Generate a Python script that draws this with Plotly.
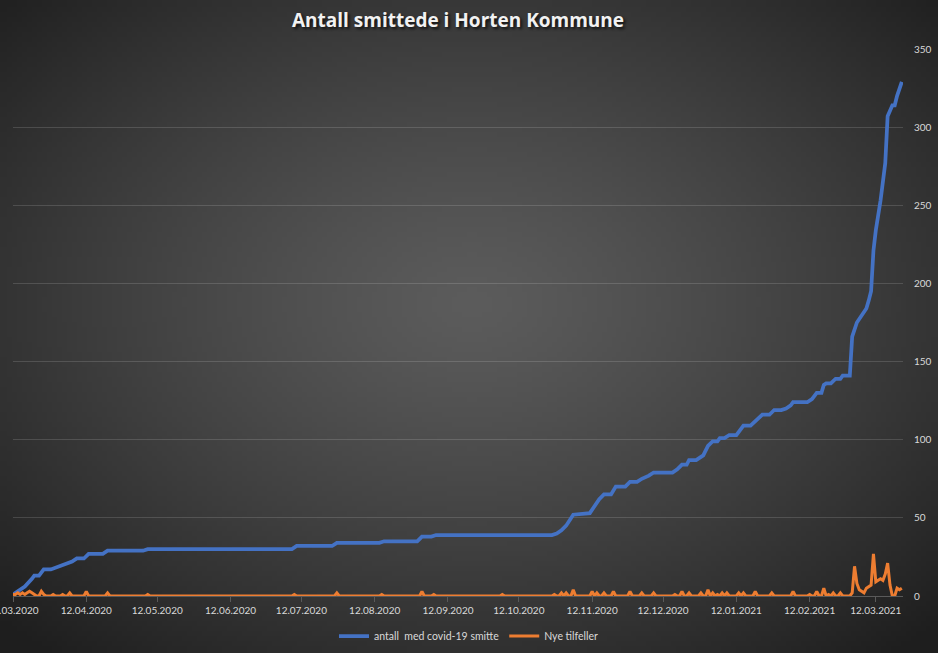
import base64
import struct
import zlib

import numpy as np
import pandas as pd
import plotly.graph_objects as go

# ---------------- data ----------------
cum_dates = [
    "2020-03-12", "2020-03-13", "2020-03-17", "2020-03-20", "2020-03-21", "2020-03-23",
    "2020-03-25", "2020-03-28", "2020-03-30", "2020-04-02", "2020-04-04", "2020-04-06",
    "2020-04-08", "2020-04-11", "2020-04-13", "2020-04-19", "2020-04-21", "2020-05-06",
    "2020-05-08", "2020-07-08", "2020-07-10", "2020-07-25", "2020-07-27", "2020-08-14",
    "2020-08-16", "2020-08-30", "2020-09-01", "2020-09-05", "2020-09-07", "2020-10-26",
    "2020-10-28", "2020-10-30", "2020-11-01", "2020-11-04", "2020-11-11", "2020-11-13",
    "2020-11-15", "2020-11-17", "2020-11-20", "2020-11-22", "2020-11-26", "2020-11-28",
    "2020-12-01", "2020-12-03", "2020-12-06", "2020-12-08", "2020-12-16", "2020-12-18",
    "2020-12-20", "2020-12-22", "2020-12-23", "2020-12-26", "2020-12-28", "2020-12-29",
    "2020-12-31", "2021-01-02", "2021-01-04", "2021-01-05", "2021-01-07", "2021-01-09",
    "2021-01-12", "2021-01-13", "2021-01-15", "2021-01-18", "2021-01-20", "2021-01-23",
    "2021-01-26", "2021-01-28", "2021-01-31", "2021-02-02", "2021-02-04", "2021-02-05",
    "2021-02-11", "2021-02-13", "2021-02-15", "2021-02-17", "2021-02-18", "2021-02-19",
    "2021-02-21", "2021-02-23", "2021-02-25", "2021-02-26", "2021-03-01", "2021-03-02",
    "2021-03-04", "2021-03-06", "2021-03-08", "2021-03-09", "2021-03-10", "2021-03-11",
    "2021-03-12", "2021-03-14", "2021-03-16", "2021-03-17", "2021-03-19", "2021-03-20",
    "2021-03-21", "2021-03-23",
]
cum_values = [
    1, 2, 6, 11, 13, 13,
    17, 17, 18, 20, 21, 22,
    24, 24, 27, 27, 29, 29,
    30, 30, 32, 32, 34, 34,
    35, 35, 38, 38, 39, 39,
    40, 42, 45, 52, 53, 58,
    62, 65, 65, 70, 70, 73,
    73, 75, 77, 79, 79, 81,
    84, 84, 87, 87, 89, 90,
    96, 99, 99, 101, 101, 103,
    103, 105, 109, 109, 112, 116,
    116, 119, 119, 120, 122, 124,
    124, 126, 130, 130, 135, 136,
    136, 139, 139, 141, 141, 166,
    175, 180, 184, 189, 195, 221,
    234, 253, 277, 307, 314, 314,
    320, 329,
]

# days with new cases (all other days in the period show 0)
new_dates = [
    "2020-03-12", "2020-03-13", "2020-03-14", "2020-03-15", "2020-03-16", "2020-03-17",
    "2020-03-18", "2020-03-19", "2020-03-20", "2020-03-21", "2020-03-24", "2020-03-25",
    "2020-03-29", "2020-04-02", "2020-04-05", "2020-04-12", "2020-04-21", "2020-05-08",
    "2020-07-09", "2020-07-27", "2020-08-15", "2020-09-01", "2020-09-06", "2020-10-05",
    "2020-10-27", "2020-10-30", "2020-11-01", "2020-11-04", "2020-11-12", "2020-11-14",
    "2020-11-17", "2020-11-21", "2020-11-28", "2020-12-03", "2020-12-08", "2020-12-17",
    "2020-12-20", "2020-12-23", "2020-12-28", "2020-12-31", "2021-01-02", "2021-01-04",
    "2021-01-06", "2021-01-08", "2021-01-13", "2021-01-15", "2021-01-20", "2021-01-27",
    "2021-02-05", "2021-02-12", "2021-02-15", "2021-02-18", "2021-02-20", "2021-02-22",
    "2021-02-25", "2021-03-02", "2021-03-03", "2021-03-04", "2021-03-05", "2021-03-06",
    "2021-03-07", "2021-03-08", "2021-03-09", "2021-03-10", "2021-03-11", "2021-03-12",
    "2021-03-13", "2021-03-14", "2021-03-15", "2021-03-16", "2021-03-17", "2021-03-18",
    "2021-03-21", "2021-03-22", "2021-03-23",
]
new_values = [
    1, 1, 2, 1, 2, 1,
    2, 3, 2, 1, 3, 1,
    1, 1, 2, 3, 2, 1,
    1, 2, 1, 3, 1, 1,
    1, 2, 2, 4, 3, 2,
    2, 3, 3, 2, 2, 1,
    3, 2, 2, 4, 2, 1,
    2, 2, 2, 2, 3, 2,
    3, 1, 3, 5, 1, 2,
    2, 2, 19, 8, 4, 3,
    2, 5, 6, 7, 27, 9,
    10, 11, 10, 14, 21, 7,
    5, 4, 5,
]
period_start = "2020-03-12"
period_end = "2021-03-23"

series_names = ["antall  med covid-19 smitte", "Nye tilfeller"]
chart_title = "Antall smittede i Horten Kommune"

# daily new-case series (zero on days without a reading above)
new_series = pd.Series(new_values, index=pd.to_datetime(new_dates))
daily_idx = pd.date_range(period_start, period_end, freq="D")
new_daily = new_series.reindex(daily_idx, fill_value=0)

# ---------------- background (radial gradient) ----------------
W, H = 938, 653
gw, gh = 188, 131
yy, xx = np.mgrid[0:gh, 0:gw].astype(float)
cx, cy = gw * 0.5, gh * 0.46
d = np.sqrt(((xx - cx) / (gw / 2)) ** 2 + ((yy - cy) / (gh / 2)) ** 2) / np.sqrt(2)
d = np.clip(d, 0, 1) ** 1.25
val = (92 - (92 - 30) * d).astype(np.uint8)
rgb = np.stack([val, val, val], axis=-1)


def png_bytes(arr):
    h, w, _ = arr.shape
    raw = b"".join(b"\x00" + arr[r].tobytes() for r in range(h))

    def chunk(tag, data):
        return (struct.pack(">I", len(data)) + tag + data
                + struct.pack(">I", zlib.crc32(tag + data) & 0xFFFFFFFF))

    return (b"\x89PNG\r\n\x1a\n"
            + chunk(b"IHDR", struct.pack(">IIBBBBB", w, h, 8, 2, 0, 0, 0))
            + chunk(b"IDAT", zlib.compress(raw, 9))
            + chunk(b"IEND", b""))


bg_uri = "data:image/png;base64," + base64.b64encode(png_bytes(rgb)).decode()

# ---------------- figure ----------------
ml, mr, mt, mb = 13, 35, 49, 57
pw, ph = W - ml - mr, H - mt - mb

fig = go.Figure()
fig.add_trace(go.Scatter(
    x=pd.to_datetime(cum_dates), y=cum_values, mode="lines",
    name=series_names[0],
    line=dict(color="#4472C4", width=3.75),
))
fig.add_trace(go.Scatter(
    x=new_daily.index, y=new_daily.values, mode="lines",
    name=series_names[1],
    line=dict(color="#ED7D31", width=3),
))

fig.update_layout(
    width=W, height=H,
    margin=dict(l=ml, r=mr, t=mt, b=mb, pad=0, autoexpand=False),
    paper_bgcolor="#2a2a2a",
    plot_bgcolor="rgba(0,0,0,0)",
    images=[dict(
        source=bg_uri, xref="paper", yref="paper",
        x=-ml / pw, y=1 + mt / ph, sizex=W / pw, sizey=H / ph,
        xanchor="left", yanchor="top", sizing="stretch", layer="below",
    )],
    title=dict(
        text=chart_title, x=0.5, xref="paper", xanchor="center",
        y=1 - 20 / H, yref="container", yanchor="middle",
        font=dict(family="Open Sans", size=19, color="#f2f2f2", weight="bold",
                  shadow="2px 2px 3px rgba(0,0,0,0.7)"),
    ),
    font=dict(family="Lato", size=10, color="#d9d9d9"),
    showlegend=True,
    legend=dict(
        orientation="h", x=0.5, xref="container", xanchor="center",
        y=1 - 636 / H, yref="container", yanchor="middle",
        bgcolor="rgba(0,0,0,0)", font=dict(family="Lato", size=10.5, color="#d9d9d9"),
        itemwidth=30,
    ),
    xaxis=dict(
        type="date",
        range=["2020-03-12", "2021-03-23 12:00"],
        tick0="2020-03-12", dtick="M1", tickformat="%d.%m.%Y",
        showgrid=False, zeroline=False,
        showline=True, linecolor="#5a5a5a", linewidth=1,
        ticks="outside", ticklen=5, tickcolor="#5a5a5a",
        tickfont=dict(family="Lato", size=10, color="#d9d9d9"),
        ticklabeloverflow="allow",
        automargin=False,
        fixedrange=True,
    ),
    yaxis=dict(
        range=[0, 350], dtick=50, side="right",
        showgrid=True, gridcolor="rgba(255,255,255,0.14)", gridwidth=1,
        zeroline=False, showline=False, ticks="",
        ticklabelstandoff=10,
        tickfont=dict(family="Lato", size=10, color="#d9d9d9"),
        automargin=False,
        fixedrange=True,
    ),
)

fig.write_html("out.html")
